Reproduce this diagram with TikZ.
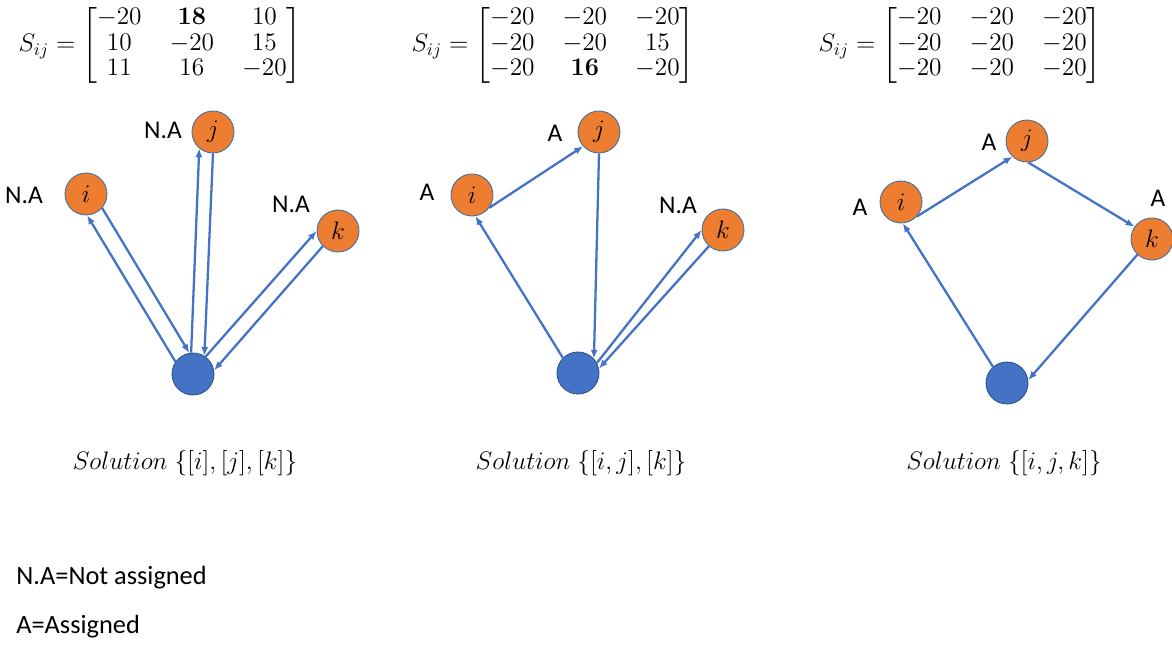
\documentclass[tikz,border=0pt]{standalone}
\usepackage{amsmath}
\usepackage[no-math]{fontspec}
\setmainfont{Carlito}
\usetikzlibrary{arrows.meta,positioning}
\definecolor{custorange}{RGB}{237,125,49}
\definecolor{custedge}{RGB}{65,113,156}
\definecolor{depotblue}{RGB}{68,114,196}
\definecolor{depotedge}{RGB}{47,82,143}
\definecolor{routeblue}{RGB}{68,114,196}
\tikzset{
  custnode/.style={circle, draw=custedge, fill=custorange, line width=0.5pt,
    minimum size=8.4mm, inner sep=0pt, font=\fontsize{14}{16}\selectfont},
  depotnode/.style={circle, draw=depotedge, fill=depotblue, line width=0.5pt,
    minimum size=8.4mm, inner sep=0pt},
  route/.style={-{Latex[length=5pt,width=4pt]}, draw=routeblue, line width=1.3pt},
  statuslabel/.style={inner sep=0pt, font=\fontsize{14.5}{16}\selectfont},
  simmatrix/.style={inner sep=0pt, font=\fontsize{14}{14.4}\selectfont,
    execute at begin node={\setlength{\arraycolsep}{8pt}}},
  solution/.style={inner sep=0pt, font=\fontsize{15}{17}\selectfont},
  legend/.style={anchor=west, inner sep=0pt, font=\fontsize{15}{17}\selectfont}
}

\begin{document}
\begin{tikzpicture}[x=0.02cm, y=-0.02cm]
\useasboundingbox (0,0) rectangle (1172,646);

% Matrices
\node[simmatrix] (m1) at (160,45) {$S_{ij}=\begin{bmatrix}-20 & \mathbf{18} & 10\\ 10 & -20 & 15\\ 11 & 16 & -20\end{bmatrix}$};
\node[simmatrix] (m2) at (553,45) {$S_{ij}=\begin{bmatrix}-20 & -20 & -20\\ -20 & -20 & 15\\ -20 & \mathbf{16} & -20\end{bmatrix}$};
\node[simmatrix] (m3) at (960,45) {$S_{ij}=\begin{bmatrix}-20 & -20 & -20\\ -20 & -20 & -20\\ -20 & -20 & -20\end{bmatrix}$};

% Panel 1
\node[custnode] (i1) at (86,194) {$i$};
\node[custnode] (j1) at (213,132) {$j$};
\node[custnode] (k1) at (338,231) {$k$};
\node[depotnode] (d1) at (193,374) {};
\node[statuslabel] (li1) at (24,195) {N.A};
\node[statuslabel] (lj1) at (163,130) {N.A};
\node[statuslabel] (lk1) at (291,204) {N.A};

% Panel 2
\node[custnode] (i2) at (472,195) {$i$};
\node[custnode] (j2) at (599,132) {$j$};
\node[custnode] (k2) at (723,230) {$k$};
\node[depotnode] (d2) at (578,373) {};
\node[statuslabel] (li2) at (427,192) {A};
\node[statuslabel] (lj2) at (555,133) {A};
\node[statuslabel] (lk2) at (678,205) {N.A};

% Panel 3
\node[custnode] (i3) at (901,202) {$i$};
\node[custnode] (j3) at (1027,141) {$j$};
\node[custnode] (k3) at (1152,239) {$k$};
\node[depotnode] (d3) at (1007,383) {};
\node[statuslabel] (li3) at (860,207) {A};
\node[statuslabel] (lj3) at (989,142) {A};
\node[statuslabel] (lk3) at (1158,198) {A};

% Routes
\draw[route] (d1.145) -- (i1.-87);
\draw[route] (i1.-41) -- (d1.100);
\draw[route] (d1.95) -- (j1.-130);
\draw[route] (j1.-90) -- (d1.58);
\draw[route] (d1.54) -- (k1.180);
\draw[route] (k1.-135) -- (d1.10);

\draw[route] (i2.-37) -- (j2.-138);
\draw[route] (d2.135) -- (i2.-81);
\draw[route] (j2.-90) -- (d2.42);
\draw[route] (d2.28) -- (k2.180);
\draw[route] (k2.-131) -- (d2.12);

\draw[route] (i3.-43) -- (j3.-133);
\draw[route] (j3.-87) -- (k3.145);
\draw[route] (k3.-133) -- (d3.8);
\draw[route] (d3.131) -- (i3.-85);

% Solutions
\node[solution] (s1) at (185,463) {$Solution\;\{[i],[j],[k]\}$};
\node[solution] (s2) at (581,463) {$Solution\;\{[i,j],[k]\}$};
\node[solution] (s3) at (1004,463) {$Solution\;\{[i,j,k]\}$};

% Legend
\node[legend] (leg1) at (16,578) {N.A=Not assigned};
\node[legend] (leg2) at (16,627) {A=Assigned};
\end{tikzpicture}
\end{document}
